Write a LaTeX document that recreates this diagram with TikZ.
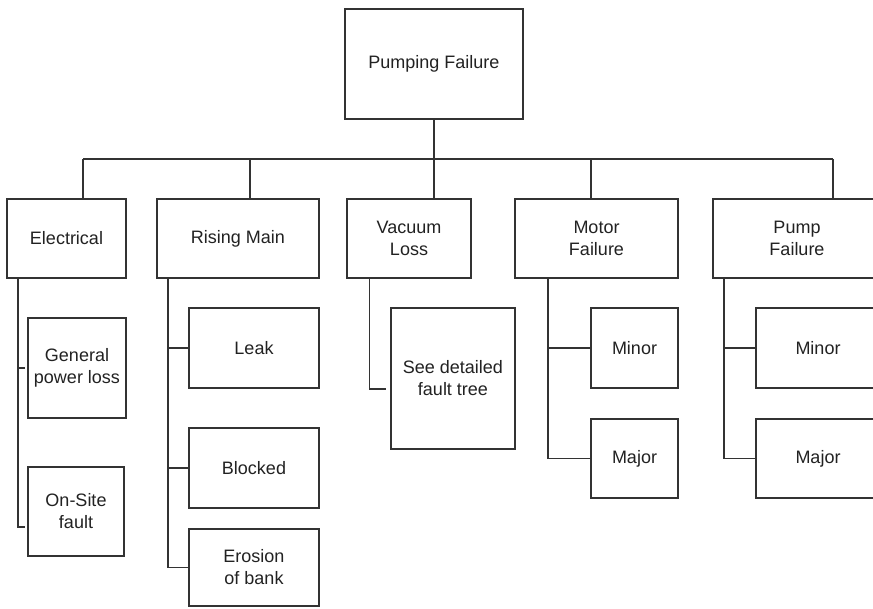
\documentclass[tikz,border=0pt]{standalone}
\usepackage{fontspec}
\setmainfont{Liberation Sans}
\definecolor{ink}{HTML}{333333}
\definecolor{txt}{HTML}{222222}
\begin{document}
\begin{tikzpicture}[x=1pt,y=-1pt,
  box/.style={draw=ink, line width=1.4pt, inner sep=0pt, align=center, text=txt,
    font=\fontsize{18}{22}\selectfont},
  link/.style={draw=ink, line width=1.4pt}]
\clip (0,0) rectangle (873,608);
\fill[white] (0,0) rectangle (873,608);
% nodes
\node[box, minimum width=178pt, minimum height=110pt] (top) at (434,64) {Pumping Failure};
\node[box, minimum width=119pt, minimum height=79pt] (elec) at (66.5,238.5) {Electrical};
\node[box, minimum width=162pt, minimum height=79pt] (rising) at (238,238.5) {Rising Main};
\node[box, minimum width=124pt, minimum height=79pt] (vac) at (409,238.5) {Vacuum\\Loss};
\node[box, minimum width=163pt, minimum height=79pt] (motor) at (596.5,238.5) {Motor\\Failure};
\node[box, minimum width=168pt, minimum height=79pt] (pump) at (797,238.5) {Pump\\Failure};
\node[box, minimum width=98pt, minimum height=100pt] (gpl) at (77,368) {General\\power loss};
\node[box, minimum width=96pt, minimum height=89pt] (ost) at (76,511.5) {On-Site\\fault};
\node[box, minimum width=130pt, minimum height=80pt] (leak) at (254,348) {Leak};
\node[box, minimum width=130pt, minimum height=80pt] (blocked) at (254,468) {Blocked};
\node[box, minimum width=130pt, minimum height=77pt] (erosion) at (254,567.5) {Erosion\\of bank};
\node[box, minimum width=124pt, minimum height=141pt] (seedet) at (453,378.5) {See detailed\\fault tree};
\node[box, minimum width=87pt, minimum height=80pt] (mminor) at (634.5,348) {Minor};
\node[box, minimum width=87pt, minimum height=79pt] (mmajor) at (634.5,458.5) {Major};
\node[box, minimum width=124pt, minimum height=80pt] (pminor) at (818,348) {Minor};
\node[box, minimum width=124pt, minimum height=79pt] (pmajor) at (818,458.5) {Major};
% bus
\coordinate (bE) at (83,159);
\coordinate (bR) at (250,159);
\coordinate (bV) at (434,159);
\coordinate (bM) at (591,159);
\coordinate (bP) at (833,159);
\draw[link] (top.south) -- (bV);
\draw[link] (bE) -- (bP);
\draw[link] (bE) -- (bE |- elec.north);
\draw[link] (bR) -- (bR |- rising.north);
\draw[link] (bV) -- (bV |- vac.north);
\draw[link] (bM) -- (bM |- motor.north);
\draw[link] (bP) -- (bP |- pump.north);
% electrical branch
\coordinate (eX) at (18,0);
\coordinate (eT1) at (25,368);
\coordinate (eT2) at (25,527);
\draw[link] (elec.south -| eX) |- (eT2);
\draw[link] (eX |- eT1) -- (eT1);
% rising main branch
\coordinate (rX) at (168,0);
\draw[link] (rising.south -| rX) |- (erosion.west);
\draw[link] (rX |- leak.west) -- (leak.west);
\draw[link] (rX |- blocked.west) -- (blocked.west);
% vacuum branch
\coordinate (vX) at (369.5,0);
\coordinate (vT) at (386,389);
\draw[link] (vac.south -| vX) |- (vT);
% motor branch
\coordinate (mX) at (548,0);
\draw[link] (motor.south -| mX) |- (mmajor.west);
\draw[link] (mX |- mminor.west) -- (mminor.west);
% pump branch
\coordinate (pX) at (724,0);
\draw[link] (pump.south -| pX) |- (pmajor.west);
\draw[link] (pX |- pminor.west) -- (pminor.west);
\end{tikzpicture}
\end{document}
